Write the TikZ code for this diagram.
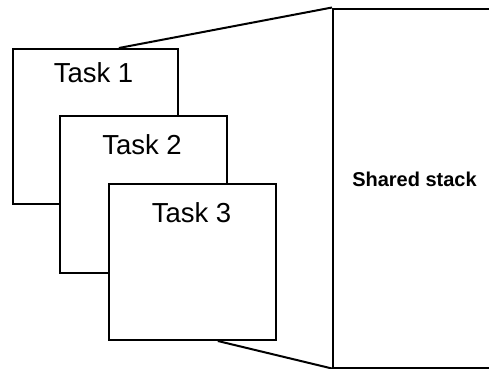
\documentclass[tikz,border=0pt]{standalone}
\usepackage{fontspec}
\setmainfont{Liberation Sans}
\usetikzlibrary{calc}
\begin{document}
\begin{tikzpicture}[x=1pt,y=-1pt,
  taskbox/.style={draw=black,fill=white,line width=2pt,rectangle,inner sep=0pt,
    minimum width=165pt,minimum height=155pt,anchor=north west},
  tasklabel/.style={anchor=base,font=\fontsize{27.5}{30}\selectfont,inner sep=0pt},
  link/.style={draw=black,line width=2pt}]
\useasboundingbox (0,0) rectangle (489,368);
\clip (0,0) rectangle (489,368);
\node[draw=black,line width=2pt,rectangle,inner sep=0pt,anchor=north west,
  minimum width=200pt,minimum height=359pt] (stack) at (332,7.5) {};
\node[taskbox] (task1) at (12,48) {};
\node[taskbox,minimum width=167pt,minimum height=157pt] (task2) at (59,115) {};
\node[taskbox,minimum width=167pt,minimum height=156pt] (task3) at (108,183) {};
\coordinate (t1top) at ($(task1.north west)!0.64!(task1.north east)$);
\coordinate (t3bot) at ($(task3.south west)!0.65!(task3.south east)$);
\draw[link] (t1top) -- (stack.north west);
\draw[link] (t3bot) -- (stack.south west);
\node[tasklabel] (l1) at (93.5,82) {Task 1};
\node[tasklabel] (l2) at (142,154) {Task 2};
\node[tasklabel] (l3) at (191.5,222) {Task 3};
\node[anchor=base,inner sep=0pt,font=\fontsize{20}{24}\selectfont\bfseries] (sl) at (414.5,186) {Shared stack};
\end{tikzpicture}
\end{document}
